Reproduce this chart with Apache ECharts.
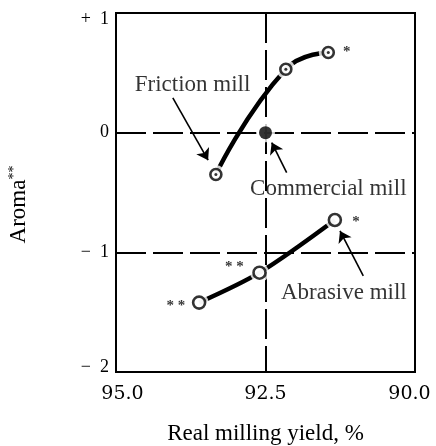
<!DOCTYPE html>
<html>
<head>
<meta charset="utf-8">
<script src="https://cdn.jsdelivr.net/npm/echarts@6/dist/echarts.min.js"></script>
<style>html,body{margin:0;padding:0;background:#fff}#c{width:436px;height:446px}</style>
</head>
<body>
<div id="c"></div>
<script>
// Data
var xTicks = [90.0, 92.5, 95.0];
var yTicks = [-2, -1, 0, 1];
var frictionX = [93.33, 92.16, 91.45];
var frictionY = [-0.35, 0.53, 0.67];
var abrasiveX = [93.61, 92.60, 91.34];
var abrasiveY = [-1.42, -1.17, -0.73];
var commercialX = [92.5];
var commercialY = [0.0];
// annotation labels: text, x, y
var labelText = ['Friction mill', 'Commercial mill', 'Abrasive mill'];
var labelX = [93.72, 91.45, 91.19];
var labelY = [0.40, -0.47, -1.34];
var starText = ['*', '*', '* *', '* *'];
var starX = [91.14, 90.985, 93.02, 94.0];
var starY = [0.67, -0.75, -1.12, -1.45];
// arrows: from (x0,y0) to (x1,y1)
var arrowX0 = [94.05, 92.146, 90.865];
var arrowY0 = [0.29, -0.334, -1.196];
var arrowX1 = [93.46, 92.396, 91.254];
var arrowY1 = [-0.23, -0.083, -0.821];

function zip(xs, ys) { return xs.map(function (x, i) { return [x, ys[i]]; }); }

var serif = 'Liberation Serif';
var allX = frictionX.concat(abrasiveX, commercialX);
var allY = frictionY.concat(abrasiveY, commercialY);

var arrows = arrowX0.map(function (x, i) {
  return [{ coord: [x, arrowY0[i]] }, { coord: [arrowX1[i], arrowY1[i]] }];
});

var chart = echarts.init(document.getElementById('c'), null, { renderer: 'canvas' });
chart.setOption({
  animation: false,
  backgroundColor: '#fff',
  grid: {
    left: 116, right: 21, top: 13, bottom: 74, show: true, borderColor: '#000', borderWidth: 2,
    backgroundColor: 'transparent', containLabel: false, outerBoundsMode: 'none'
  },
  xAxis: {
    type: 'value', inverse: true, min: xTicks[0], max: xTicks[2], interval: 2.5,
    axisLine: { show: false }, axisTick: { show: false },
    splitLine: { show: true, lineStyle: { color: '#000', width: 2, type: [30, 7] } },
    axisLabel: {
      margin: 13, color: '#000', fontFamily: 'DejaVu Serif', fontSize: 19,
      formatter: function (v) {
        if (v === 95) return '{l|95.0}';
        if (v === 90) return '{r|90.0}';
        return '{m|' + v.toFixed(1) + '}';
      },
      rich: {
        l: { fontFamily: 'DejaVu Serif', fontSize: 19, color: '#000', padding: [0, 0, 0, 13] },
        r: { fontFamily: 'DejaVu Serif', fontSize: 19, color: '#000', padding: [0, 11, 0, 0] },
        m: { fontFamily: 'DejaVu Serif', fontSize: 19, color: '#000' }
      }
    },
    name: 'Real milling yield, %', nameLocation: 'middle', nameGap: 50,
    nameTextStyle: { color: '#000', fontFamily: serif, fontSize: 23 }
  },
  yAxis: {
    type: 'value', min: yTicks[0], max: yTicks[3], interval: 1,
    axisLine: { show: false }, axisTick: { show: false },
    splitLine: { show: true, lineStyle: { color: '#000', width: 2, type: [30, 7] } },
    axisLabel: {
      margin: 7, color: '#000', fontFamily: serif, fontSize: 18,
      formatter: function (v) {
        if (v > 0) return '{t|+\u2002' + v + '}';
        if (v === yTicks[0]) return '{b|\u2212\u2002' + (-v) + '}';
        if (v < 0) return '{n|\u2212\u2002' + (-v) + '}';
        return '{n|0}';
      },
      rich: {
        t: { fontFamily: serif, fontSize: 18, color: '#000', padding: [12, 0, 0, 0] },
        b: { fontFamily: serif, fontSize: 18, color: '#000', padding: [0, 0, 10, 0] },
        n: { fontFamily: serif, fontSize: 18, color: '#000' }
      }
    },
    name: '{a|Aroma}{s|**}', nameLocation: 'middle', nameGap: 86, nameRotate: 90,
    nameTextStyle: {
      color: '#000', fontFamily: serif, fontSize: 23,
      rich: {
        a: { fontFamily: serif, fontSize: 23, color: '#000' },
        s: { fontFamily: serif, fontSize: 14, color: '#000', verticalAlign: 'top', padding: [0, 24, 6, 0] }
      }
    }
  },
  series: [
    {
      name: 'friction-line', type: 'line', data: zip(frictionX, frictionY), smooth: 0.5,
      showSymbol: false, lineStyle: { color: '#000', width: 4.5 }, z: 2
    },
    {
      name: 'abrasive-line', type: 'line', data: zip(abrasiveX, abrasiveY), smooth: 0.3,
      showSymbol: false, lineStyle: { color: '#000', width: 4.5 }, z: 2,
      markLine: {
        silent: true, symbol: ['none', 'arrow'], symbolSize: 11,
        lineStyle: { color: '#000', width: 1.6, type: 'solid' },
        label: { show: false }, data: arrows
      }
    },
    {
      name: 'halo', type: 'scatter', data: zip(allX, allY), symbol: 'circle', symbolSize: 19,
      itemStyle: { color: '#fff' }, z: 3, silent: true
    },
    {
      name: 'friction', type: 'scatter', data: zip(frictionX, frictionY), symbol: 'circle', symbolSize: 11,
      itemStyle: { color: '#fff', borderColor: '#000', borderWidth: 2.6 }, z: 4
    },
    {
      name: 'friction-dot', type: 'scatter', data: zip(frictionX, frictionY), symbol: 'circle', symbolSize: 3,
      itemStyle: { color: '#000' }, z: 5
    },
    {
      name: 'abrasive', type: 'scatter', data: zip(abrasiveX, abrasiveY), symbol: 'circle', symbolSize: 12,
      itemStyle: { color: '#fff', borderColor: '#000', borderWidth: 2.6 }, z: 4
    },
    {
      name: 'commercial', type: 'scatter', data: zip(commercialX, commercialY), symbol: 'circle', symbolSize: 13,
      itemStyle: { color: '#000' }, z: 4
    },
    {
      name: 'labels', type: 'scatter', symbolSize: 1, itemStyle: { color: 'rgba(0,0,0,0)' }, z: 6,
      data: labelX.map(function (x, i) { return { value: [x, labelY[i]], name: labelText[i] }; }),
      label: { show: true, position: 'inside', formatter: '{b}', color: '#000', fontFamily: serif, fontSize: 23 }
    },
    {
      name: 'stars', type: 'scatter', symbolSize: 1, itemStyle: { color: 'rgba(0,0,0,0)' }, z: 6,
      data: starX.map(function (x, i) { return { value: [x, starY[i]], name: starText[i] }; }),
      label: { show: true, position: 'inside', formatter: '{b}', color: '#000', fontFamily: serif, fontSize: 15, fontWeight: 'bold' }
    }
  ]
});
</script>
</body>
</html>
